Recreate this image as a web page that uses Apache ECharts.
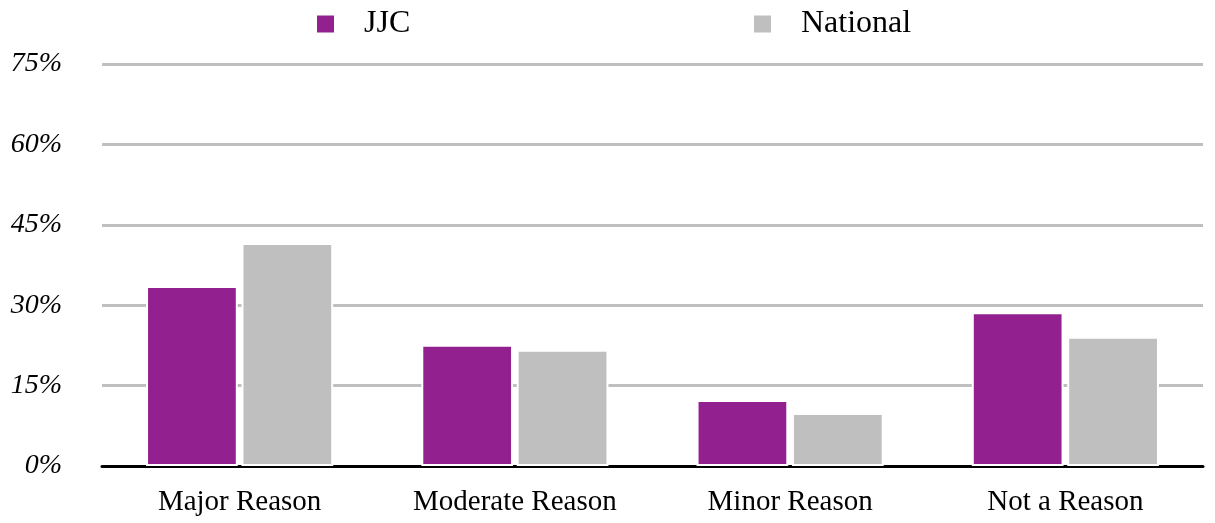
<!DOCTYPE html>
<html>
<head>
<meta charset="utf-8">
<script src="https://cdn.jsdelivr.net/npm/echarts@6/dist/echarts.min.js"></script>
<style>
  html, body { margin: 0; padding: 0; background: #fff; }
  #myChart { width: 1215px; height: 523px; }
</style>
</head>
<body>
<div id="myChart"></div>
<script>
// data
const categories = ['Major Reason', 'Moderate Reason', 'Minor Reason', 'Not a Reason'];
const jjcValues = [33.6, 22.6, 12.3, 28.7];
const nationalValues = [41.6, 21.7, 9.9, 24.1];
const seriesNames = ['JJC', 'National'];

const font = '"Liberation Serif", "DejaVu Serif", serif';
const myChart = echarts.init(document.getElementById('myChart'));

const legendText = {
    fontFamily: font,
    fontSize: 32,
    color: '#000',
    padding: [0, 0, 0, 24]
};

const option = {
    animation: false,
    grid: {left: 102, right: 12, top: 64, bottom: 57},
    legend: [
        {data: ['JJC'], left: 310, top: 3, itemWidth: 19, itemHeight: 19, icon: 'rect', textStyle: legendText},
        {data: ['National'], left: 747, top: 3, itemWidth: 19, itemHeight: 19, icon: 'rect', textStyle: legendText}
    ],
    xAxis: {
        type: 'category',
        data: categories,
        axisTick: {show: false},
        axisLine: {lineStyle: {color: '#000', width: 3}},
        axisLabel: {fontFamily: font, fontSize: 29, color: '#000', margin: 22}
    },
    yAxis: {
        type: 'value',
        min: 0,
        max: 75,
        interval: 15,
        axisLine: {show: false},
        axisTick: {show: false},
        splitLine: {lineStyle: {color: '#BFBFBF', width: 3}},
        axisLabel: {
            fontFamily: font,
            fontStyle: 'italic',
            fontSize: 28,
            color: '#000',
            margin: 40,
            formatter: '{value}%'
        }
    },
    series: [
        {
            name: seriesNames[0],
            type: 'bar',
            data: jjcValues,
            barGap: '4%',
            barCategoryGap: '32%',
            itemStyle: {color: '#92208F', borderColor: '#fff', borderWidth: 2}
        },
        {
            name: seriesNames[1],
            type: 'bar',
            data: nationalValues,
            itemStyle: {color: '#BFBFBF', borderColor: '#fff', borderWidth: 2}
        }
    ]
};

myChart.setOption(option);
</script>
</body>
</html>
